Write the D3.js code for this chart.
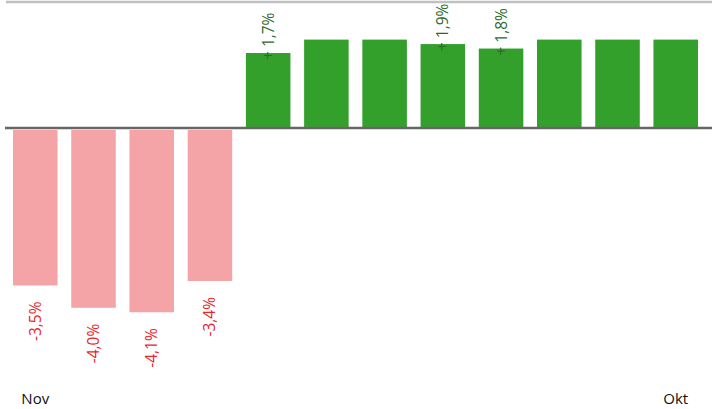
<!DOCTYPE html>
<html lang="de">
<head>
	<meta charset="UTF-8"/>
	<title>Monatswerte Nov - Okt</title>
	<script src="https://d3js.org/d3.v7.min.js"></script>
	<style>
		body { margin: 0; background: #fff; }
		svg { display: block; font-family: "Open Sans", "Liberation Sans", sans-serif; }
	</style>
</head>
<body>
	<script>

		var w = 712;
		var h = 409;

		// months, first and last are labelled
		var months = ["Nov", "Dez", "Jan", "Feb", "Mär", "Apr", "Mai", "Jun", "Jul", "Aug", "Sep", "Okt"];
		var tickLabels = ["Nov", "Okt"];
		// change in percent, bars above 2 % are cut at the top of the chart
		var values = [-3.5, -4.0, -4.1, -3.4, 1.7, 2.0, 2.0, 1.9, 1.8, 2.0, 2.0, 2.0];
		var labels = ["-3,5%", "-4,0%", "-4,1%", "-3,4%", "+ 1,7%", null, null, "+ 1,9%", "+ 1,8%", null, null, null];

		//Define scales
		var xScale = d3.scaleBand()
						.domain(d3.range(months.length))
						.range([13, 698])
						.paddingInner(0.235);

		var yScale = d3.scaleLinear()
						.domain([-5, 3])
						.range([352.5, -5.1]);

		var svg = d3.select("body")
					.append("svg")
					.attr("width", w)
					.attr("height", h);

		//top border
		svg.append("line")
			.attr("x1", 6)
			.attr("x2", w)
			.attr("y1", 2)
			.attr("y2", 2)
			.attr("stroke", "#c0c0c0")
			.attr("stroke-width", 2.5);

		//bars
		svg.selectAll("rect")
			.data(values)
			.enter()
			.append("rect")
			.attr("x", function(d, i) { return xScale(i); })
			.attr("y", function(d) { return d > 0 ? yScale(d) : yScale(0) + 1; })
			.attr("width", xScale.bandwidth())
			.attr("height", function(d) {
				return d > 0 ? yScale(0) - yScale(d) : yScale(d) - yScale(0) - 1;
			})
			.attr("fill", function(d) { return d > 0 ? "#34a02c" : "#f4a4a6"; });

		//zero line
		svg.append("line")
			.attr("x1", 5)
			.attr("x2", w)
			.attr("y1", yScale(0) - 1)
			.attr("y2", yScale(0) - 1)
			.attr("stroke", "#666666")
			.attr("stroke-width", 2.5);

		//value labels, rotated
		svg.selectAll(".lbl")
			.data(values)
			.enter()
			.filter(function(d, i) { return labels[i] != null; })
			.append("text")
			.attr("class", "lbl")
			.attr("transform", function(d) {
				var i = values.indexOf(d);
				var x = xScale(i) + xScale.bandwidth() / 2 + 5.5;
				var y = d > 0 ? yScale(d) + 7 : yScale(d) + 16;
				return "translate(" + x + "," + y + ") rotate(-90)";
			})
			.attr("text-anchor", function(d) { return d > 0 ? "start" : "end"; })
			.attr("font-size", "15.5px")
			.attr("fill", function(d) { return d > 0 ? "#2b6a2b" : "#e8262c"; })
			.text(function(d) { return labels[values.indexOf(d)]; });

		//first and last month
		svg.selectAll(".tick")
			.data(tickLabels)
			.enter()
			.append("text")
			.attr("class", "tick")
			.attr("x", function(d) { return xScale(months.indexOf(d)) + xScale.bandwidth() / 2; })
			.attr("y", 404)
			.attr("text-anchor", "middle")
			.attr("font-size", "15px")
			.attr("fill", "#111")
			.text(function(d) { return d; });

	</script>
</body>
</html>
